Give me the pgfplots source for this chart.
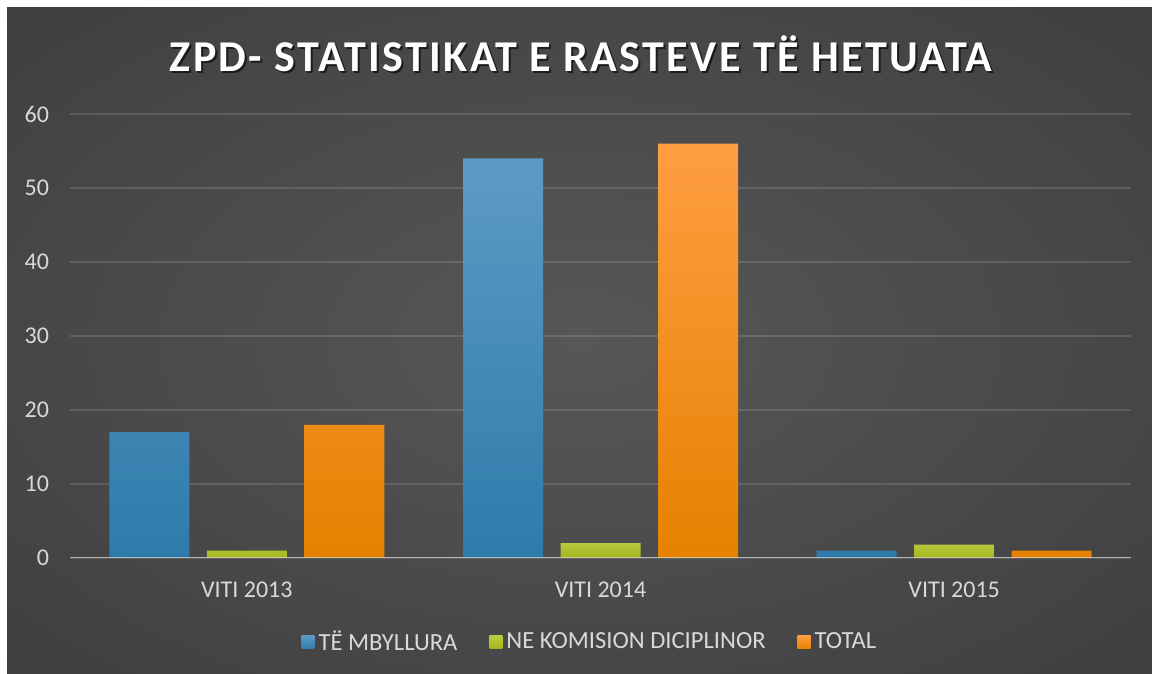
\documentclass[border=0pt]{standalone}
\usepackage{fontspec}
\setmainfont{Carlito}
\usepackage{pgfplots}
\pgfplotsset{compat=1.18}
\definecolor{bluetop}{HTML}{5D9BC4}
\definecolor{bluebot}{HTML}{2E7BAB}
\definecolor{greentop}{HTML}{B8CA3E}
\definecolor{greenbot}{HTML}{A4B51A}
\definecolor{orangetop}{HTML}{FF9E42}
\definecolor{orangebot}{HTML}{E68100}
\definecolor{bgin}{HTML}{575757}
\definecolor{bgout}{HTML}{262626}
\definecolor{lbl}{HTML}{D9D9D9}
\pgfdeclareradialshading{bgshade}{\pgfpoint{0bp}{0bp}}{color(0bp)=(bgin); color(72bp)=(bgout)}
\begin{document}
\begin{tikzpicture}
\fill[white] (0pt,0pt) rectangle (576pt,337pt);
\shade[shading=bgshade] (3.5pt,0pt) rectangle (576pt,333pt);
\node[text=black, opacity=0.6, font=\fontsize{22}{26}\selectfont\bfseries] at (291.5pt,309pt) {\addfontfeature{LetterSpace=5.5}ZPD- STATISTIKAT E RASTEVE TË HETUATA};
\node[text=white, font=\fontsize{22}{26}\selectfont\bfseries] at (290.5pt,310pt) {\addfontfeature{LetterSpace=5.5}ZPD- STATISTIKAT E RASTEVE TË HETUATA};
\begin{axis}[
  at={(35pt,58pt)}, anchor=south west,
  scale only axis, width=530.5pt, height=222pt,
  xmin=-0.5, xmax=2.5, ymin=0, ymax=60,
  ytick={0,10,...,60},
  xtick={0,1,2},
  xticklabels={VITI 2013, VITI 2014, VITI 2015},
  ybar=8.75pt, bar width=40pt,
  axis line style={draw=none},
  tick style={draw=none},
  ymajorgrids,
  grid style={white, opacity=0.13, line width=0.6pt},
  /pgf/number format/assume math mode=true,
  ticklabel style={text=lbl, font=\fontsize{12}{14}\selectfont},
  yticklabel style={xshift=-7pt},
  xticklabel style={yshift=-4pt},
  legend style={at={(0.491,-0.19)}, anchor=center, draw=none, fill=none,
    text=lbl, font=\fontsize{12.3}{14}\selectfont, legend columns=3,
    /tikz/every even column/.append style={column sep=14pt}},
  legend image code/.code={\fill[#1] (0pt,-3.25pt) rectangle (6.5pt,3.25pt);},
]
\addplot[draw=none, top color=bluetop, bottom color=bluebot] coordinates {(0,17) (1,54) (2,1)};
\addplot[draw=none, top color=greentop, bottom color=greenbot] coordinates {(0,1) (1,2) (2,1.8)};
\addplot[draw=none, top color=orangetop, bottom color=orangebot] coordinates {(0,18) (1,56) (2,1)};
\legend{TË MBYLLURA, NE KOMISION DICIPLINOR, TOTAL}
\draw[color=lbl, opacity=0.7, line width=1.2pt] (axis cs:-0.5,0) -- (axis cs:2.5,0);
\end{axis}
\end{tikzpicture}
\end{document}
